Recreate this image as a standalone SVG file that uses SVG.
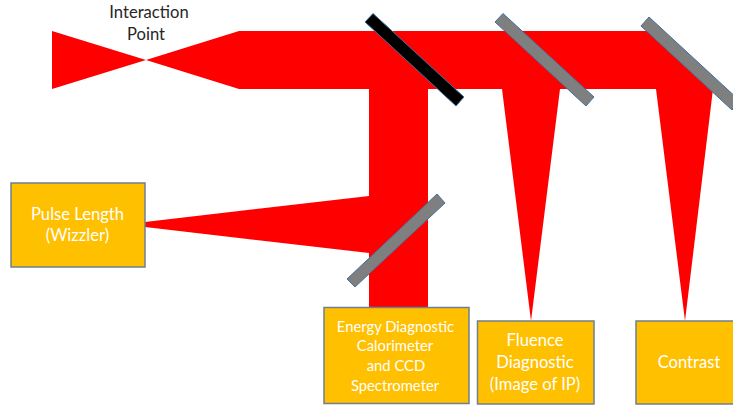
<svg xmlns="http://www.w3.org/2000/svg" width="733" height="406" viewBox="0 0 733 406">
<style>
.beam{fill:#ff0000}
.mirror{fill:#7f7f7f;stroke:#41719c;stroke-width:1}
.box{fill:#ffc000;stroke:#6f7f8f;stroke-width:1.5}
text{font-family:"Lato","Liberation Sans",sans-serif;font-size:16.6px;text-anchor:middle;fill:#ffffff}
.small{font-size:14.8px}
.dark{fill:#262626}
</style>
<rect width="733" height="406" fill="#ffffff"/>
<g id="beams">
<polygon class="beam" points="52,31 146,60 52,89"/>
<polygon class="beam" points="146,60 239,31 660,31 716,89 713,89 685,321 656,89 560,89 531,321 502,89 428,89 428,308 369,308 369,253 145,227 145,222 369,196 369,89 239,89"/>
</g>
<g id="mirror-black"><polygon points="373,13.5 464,97 456,106 365,22" fill="#000000" stroke="#41719c" stroke-width="1"/></g>
<g id="mirror-fluence"><polygon class="mirror" points="503,13.5 594,97 586,106 495,22"/></g>
<g id="mirror-contrast"><polygon class="mirror" points="649,17 740,101 732,110 641,26"/></g>
<g id="mirror-energy"><polygon class="mirror" points="437,194 445,203 355,287 347,279"/></g>
<g id="interaction-point">
<text class="dark" x="149" y="18">Interaction</text>
<text class="dark" x="146" y="40">Point</text>
</g>
<g id="pulse-length">
<rect class="box" x="11" y="183" width="134" height="84"/>
<text x="77.500" y="220">Pulse Length</text>
<text x="77.500" y="241">(Wizzler)</text>
</g>
<g id="energy-diagnostic">
<rect class="box" x="324" y="307.5" width="145" height="96"/>
<text class="small" x="395.500" y="332">Energy Diagnostic</text>
<text class="small" x="395" y="351">Calorimeter</text>
<text class="small" x="396" y="371">and CCD</text>
<text class="small" x="395" y="391">Spectrometer</text>
</g>
<g id="fluence-diagnostic">
<rect class="box" x="477.500" y="321" width="116.500" height="83"/>
<text x="535" y="346">Fluence</text>
<text x="535" y="368">Diagnostic</text>
<text x="535" y="390">(Image of IP)</text>
</g>
<g id="contrast">
<rect class="box" x="636" y="321" width="100" height="83"/>
<text x="689" y="368">Contrast</text>
</g>
</svg>
